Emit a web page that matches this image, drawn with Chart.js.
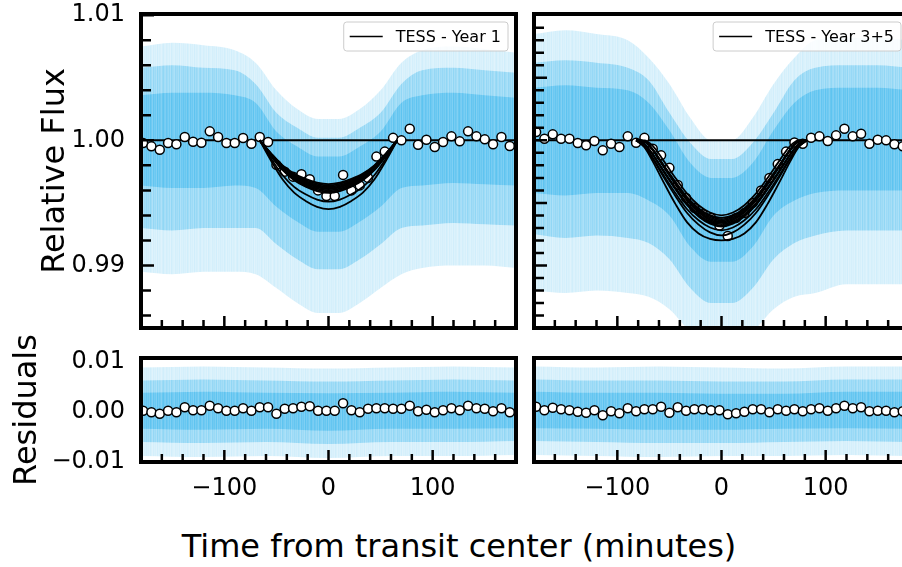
<!DOCTYPE html>
<html>
<head>
<meta charset="utf-8">
<script src="https://cdn.jsdelivr.net/npm/chart.js@4.4.1/dist/chart.umd.min.js"></script>
<style>
  body { margin: 0; background: #fff; }
  #fig { position: relative; width: 902px; height: 567px; overflow: hidden; font-family: 'DejaVu Sans'; }
  .panel { position: absolute; }
  #xtitle { position: absolute; left: 0; top: 527px; width: 918px; text-align: center; font-size: 32px; line-height: 38px; color: #000; }
</style>
</head>
<body>
<div id="fig">
  <div class="panel" style="left:0;top:0"><canvas id="fluxY1" width="525" height="334"></canvas></div>
  <div class="panel" style="left:520px;top:0"><canvas id="fluxY35" width="400" height="334"></canvas></div>
  <div class="panel" style="left:0;top:320px"><canvas id="resY1" width="525" height="180"></canvas></div>
  <div class="panel" style="left:520px;top:320px"><canvas id="resY35" width="400" height="180"></canvas></div>
  <div id="xtitle">Time from transit center (minutes)</div>
</div>
<script>
// binned light curve times (minutes from mid-transit)
const binTimes = [-178, -170, -162, -154, -146, -138, -130, -122, -114, -106, -98, -90, -82, -74, -66,
  -58, -50, -42, -34, -26, -18, -10, -2, 6, 14, 22, 30, 38, 46, 54, 62, 70, 78, 86, 94, 102, 110, 118,
  126, 134, 142, 150, 158, 166, 174];

// binned relative flux
const binFluxY1 = [0.99979, 0.99952, 0.99925, 0.99979, 0.99968, 1.00027, 0.99989, 0.99981, 1.00072, 1.00027,
  0.99979, 0.99979, 1.00019, 0.99973, 1.00027, 0.99987, 0.99804, 0.99750, 0.99710, 0.99730, 0.99690, 0.99600,
  0.99555, 0.99555, 0.99724, 0.99600, 0.99640, 0.99700, 0.99870, 0.99910, 1.00020, 1.00000, 1.00093, 0.99965,
  1.00005, 0.99947, 0.99987, 1.00032, 0.99992, 1.00072, 1.00032, 1.00008, 0.99968, 1.00027, 0.99955];
const binFluxY35 = [1.00067, 1.00013, 1.00048, 1.00013, 1.00013, 0.99979, 0.99960, 0.99995, 0.99920, 0.99973,
  0.99947, 1.00032, 0.99981, 1.00020, 0.99933, 0.99880, 0.99780, 0.99644, 0.99540, 0.99460, 0.99410, 0.99380,
  0.99320, 0.99236, 0.99380, 0.99420, 0.99500, 0.99600, 0.99700, 0.99810, 0.99910, 0.99983, 0.99973, 1.00021,
  1.00032, 0.99995, 1.00040, 1.00093, 1.00032, 1.00053, 0.99973, 1.00005, 1.00000, 0.99968, 0.99952];

// binned residuals
const binResY1 = [0.0002, -0.0001, -0.0004, 0.0002, -0.0001, 0.0009, 0.0003, 0.0003, 0.0012, 0.0007, 0.0002,
  0.0002, 0.0007, 0.0002, 0.0009, 0.0009, -0.0004, 0.0006, 0.0007, 0.0010, 0.0011, 0.0002, 0.0002, 0.0002,
  0.0017, 0.0003, -0.0001, 0.0006, 0.0007, 0.0007, 0.0006, 0.0006, 0.0012, 0.0001, 0.0004, -0.0001, 0.0003,
  0.0007, 0.0003, 0.0012, 0.0007, 0.0006, 0.0001, 0.0007, -0.0001];
const binResY35 = [0.0010, 0.0003, 0.0008, 0.0005, 0.0003, 0.0000, -0.0002, 0.0003, -0.0007, 0.0001, -0.0003,
  0.0007, 0.0001, 0.0005, 0.0005, 0.0010, -0.0002, 0.0009, 0.0002, 0.0005, 0.0005, 0.0003, 0.0003, -0.0005,
  -0.0003, 0.0000, 0.0005, 0.0005, -0.0001, 0.0005, 0.0002, 0.0005, 0.0001, 0.0005, 0.0007, 0.0002, 0.0007,
  0.0012, 0.0007, 0.0009, 0.0001, 0.0002, 0.0002, -0.0001, 0.0001];

// out-of-transit baseline
const baseTimes = [-180, 180];
const baseFlux = [1, 1];

// transit model draws, Year 1
const modelTimesY1 = [-66, -55, -44, -33, -22, -11, 0, 11, 22, 33, 44, 55, 66];
const modelsY1 = [
  [1, 0.99895, 0.99800, 0.99734, 0.99692, 0.99662, 0.99650, 0.99662, 0.99692, 0.99734, 0.99800, 0.99895, 1],
  [1, 0.99892, 0.99795, 0.99726, 0.99683, 0.99653, 0.99640, 0.99653, 0.99683, 0.99726, 0.99795, 0.99892, 1],
  [1, 0.99889, 0.99789, 0.99719, 0.99674, 0.99643, 0.99630, 0.99643, 0.99674, 0.99719, 0.99789, 0.99889, 1],
  [1, 0.99886, 0.99783, 0.99711, 0.99666, 0.99633, 0.99620, 0.99633, 0.99666, 0.99711, 0.99783, 0.99886, 1],
  [1, 0.99884, 0.99781, 0.99707, 0.99661, 0.99628, 0.99615, 0.99628, 0.99661, 0.99707, 0.99781, 0.99884, 1],
  [1, 0.99883, 0.99778, 0.99704, 0.99657, 0.99624, 0.99610, 0.99624, 0.99657, 0.99704, 0.99778, 0.99883, 1],
  [1, 0.99880, 0.99772, 0.99696, 0.99648, 0.99614, 0.99600, 0.99614, 0.99648, 0.99696, 0.99772, 0.99880, 1],
  [1, 0.99877, 0.99766, 0.99688, 0.99639, 0.99604, 0.99590, 0.99604, 0.99639, 0.99688, 0.99766, 0.99877, 1],
  [1, 0.99874, 0.99761, 0.99681, 0.99630, 0.99595, 0.99580, 0.99595, 0.99630, 0.99681, 0.99761, 0.99874, 1],
  [1, 0.99853, 0.99721, 0.99628, 0.99569, 0.99527, 0.99510, 0.99527, 0.99569, 0.99628, 0.99721, 0.99853, 1],
  [1, 0.99835, 0.99687, 0.99582, 0.99516, 0.99469, 0.99450, 0.99469, 0.99516, 0.99582, 0.99687, 0.99835, 1]
];

// transit model draws, Year 3+5
const modelTimesY35 = [-82, -74, -66, -55, -44, -33, -22, -11, 0, 11, 22, 33, 44, 55, 66, 74, 82];
const modelsY35 = [
  [1, 1, 0.99955, 0.99830, 0.99697, 0.99574, 0.99481, 0.99423, 0.99400, 0.99423, 0.99481, 0.99574, 0.99697, 0.99830, 0.99955, 1, 1],
  [1, 0.99993, 0.99927, 0.99795, 0.99666, 0.99546, 0.99458, 0.99402, 0.99380, 0.99402, 0.99458, 0.99546, 0.99666, 0.99795, 0.99927, 0.99993, 1],
  [1, 0.99992, 0.99926, 0.99792, 0.99661, 0.99539, 0.99449, 0.99393, 0.99370, 0.99393, 0.99449, 0.99539, 0.99661, 0.99792, 0.99926, 0.99992, 1],
  [1, 0.99992, 0.99924, 0.99789, 0.99656, 0.99532, 0.99440, 0.99383, 0.99360, 0.99383, 0.99440, 0.99532, 0.99656, 0.99789, 0.99924, 0.99992, 1],
  [1, 0.99992, 0.99923, 0.99786, 0.99650, 0.99524, 0.99431, 0.99373, 0.99350, 0.99373, 0.99431, 0.99524, 0.99650, 0.99786, 0.99923, 0.99992, 1],
  [1, 0.99992, 0.99922, 0.99782, 0.99645, 0.99517, 0.99423, 0.99364, 0.99340, 0.99364, 0.99423, 0.99517, 0.99645, 0.99782, 0.99922, 0.99992, 1],
  [1, 0.99971, 0.99889, 0.99751, 0.99618, 0.99496, 0.99408, 0.99352, 0.99330, 0.99352, 0.99408, 0.99496, 0.99618, 0.99751, 0.99889, 0.99971, 1],
  [1, 0.99970, 0.99887, 0.99747, 0.99612, 0.99489, 0.99400, 0.99342, 0.99320, 0.99342, 0.99400, 0.99489, 0.99612, 0.99747, 0.99887, 0.99970, 1],
  [1, 0.99970, 0.99885, 0.99743, 0.99607, 0.99481, 0.99391, 0.99333, 0.99310, 0.99333, 0.99391, 0.99481, 0.99607, 0.99743, 0.99885, 0.99970, 1],
  [1, 0.99951, 0.99860, 0.99714, 0.99575, 0.99449, 0.99361, 0.99303, 0.99280, 0.99303, 0.99361, 0.99449, 0.99575, 0.99714, 0.99860, 0.99951, 1],
  [1, 0.99949, 0.99852, 0.99698, 0.99552, 0.99419, 0.99326, 0.99264, 0.99240, 0.99264, 0.99326, 0.99419, 0.99552, 0.99698, 0.99852, 0.99949, 1],
  [1, 0.99946, 0.99832, 0.99656, 0.99488, 0.99344, 0.99256, 0.99212, 0.99200, 0.99212, 0.99256, 0.99344, 0.99488, 0.99656, 0.99832, 0.99946, 1]
];

// spread of the unbinned 2-min cadence points (outer / middle / inner envelopes)
const cloudTimes = [-180, -150, -120, -90, -70, -50, -30, -10, 10, 30, 50, 70, 90, 120, 150, 180];
const cloudY1 = {
  outerHi: [1.0075, 1.0078, 1.0076, 1.0072, 1.0062, 1.0040, 1.0025, 1.0017, 1.0017, 1.0025, 1.0040, 1.0062, 1.0072, 1.0075, 1.0073, 1.0070],
  outerLo: [0.9895, 0.9893, 0.9895, 0.9895, 0.9893, 0.9882, 0.9870, 0.9862, 0.9862, 0.9870, 0.9882, 0.9893, 0.9898, 0.9900, 0.9900, 0.9898],
  midHi: [1.0058, 1.0060, 1.0058, 1.0056, 1.0045, 1.0022, 1.0010, 1.0002, 1.0002, 1.0010, 1.0022, 1.0045, 1.0056, 1.0058, 1.0056, 1.0054],
  midLo: [0.9930, 0.9928, 0.9930, 0.9930, 0.9930, 0.9917, 0.9905, 0.9897, 0.9897, 0.9905, 0.9917, 0.9930, 0.9932, 0.9934, 0.9933, 0.9932],
  innerHi: [1.0036, 1.0038, 1.0038, 1.0036, 1.0030, 1.0007, 0.9995, 0.9987, 0.9987, 0.9995, 1.0007, 1.0030, 1.0036, 1.0038, 1.0036, 1.0034],
  innerLo: [0.9964, 0.9962, 0.9962, 0.9964, 0.9962, 0.9947, 0.9935, 0.9927, 0.9927, 0.9935, 0.9947, 0.9962, 0.9964, 0.9966, 0.9965, 0.9964]
};
const cloudY35 = {
  outerHi: [1.0085, 1.0088, 1.0085, 1.0080, 1.0066, 1.0045, 1.0018, 1.0000, 1.0000, 1.0018, 1.0045, 1.0066, 1.0080, 1.0082, 1.0082, 1.0080],
  outerLo: [0.9880, 0.9878, 0.9880, 0.9878, 0.9875, 0.9865, 0.9847, 0.9835, 0.9835, 0.9847, 0.9865, 0.9875, 0.9878, 0.9885, 0.9885, 0.9885],
  midHi: [1.0062, 1.0064, 1.0062, 1.0058, 1.0048, 1.0022, 0.9998, 0.9985, 0.9985, 0.9998, 1.0022, 1.0048, 1.0058, 1.0060, 1.0060, 1.0058],
  midLo: [0.9925, 0.9922, 0.9924, 0.9922, 0.9918, 0.9905, 0.9882, 0.9870, 0.9870, 0.9882, 0.9905, 0.9918, 0.9924, 0.9928, 0.9928, 0.9928],
  innerHi: [1.0042, 1.0044, 1.0042, 1.0040, 1.0030, 1.0008, 0.9982, 0.9970, 0.9970, 0.9982, 1.0008, 1.0030, 1.0040, 1.0042, 1.0042, 1.0040],
  innerLo: [0.9958, 0.9956, 0.9958, 0.9958, 0.9952, 0.9940, 0.9915, 0.9903, 0.9903, 0.9915, 0.9940, 0.9952, 0.9958, 0.9960, 0.9960, 0.9960]
};
const resCloudTimes = [-180, -120, -60, 0, 60, 120, 180];
const resCloudY1 = {
  outerHi: [0.0088, 0.0090, 0.0088, 0.0086, 0.0088, 0.0090, 0.0088],
  outerLo: [-0.0088, -0.0090, -0.0088, -0.0092, -0.0088, -0.0088, -0.0086],
  midHi: [0.0062, 0.0064, 0.0062, 0.0060, 0.0062, 0.0064, 0.0062],
  midLo: [-0.0060, -0.0062, -0.0060, -0.0064, -0.0060, -0.0060, -0.0058],
  innerHi: [0.0038, 0.0040, 0.0038, 0.0037, 0.0038, 0.0040, 0.0038],
  innerLo: [-0.0034, -0.0036, -0.0034, -0.0038, -0.0034, -0.0034, -0.0033]
};
const resCloudY35 = {
  outerHi: [0.0090, 0.0088, 0.0090, 0.0088, 0.0086, 0.0090, 0.0090],
  outerLo: [-0.0086, -0.0088, -0.0090, -0.0088, -0.0088, -0.0086, -0.0088],
  midHi: [0.0064, 0.0062, 0.0062, 0.0060, 0.0060, 0.0064, 0.0064],
  midLo: [-0.0058, -0.0060, -0.0062, -0.0062, -0.0060, -0.0058, -0.0060],
  innerHi: [0.0040, 0.0038, 0.0038, 0.0036, 0.0036, 0.0040, 0.0040],
  innerLo: [-0.0033, -0.0034, -0.0036, -0.0036, -0.0034, -0.0033, -0.0034]
};

// axis ticks
const xMajorTicks = [-100, 0, 100];
const xMinorTicks = [-160, -140, -120, -80, -60, -40, -20, 20, 40, 60, 80, 120, 140, 160];
const fluxLabelTicks = [0.99, 1.00, 1.01];
const fluxMinorY1 = [0.986, 0.988, 0.992, 0.994, 0.996, 0.998, 1.002, 1.004, 1.006, 1.008];
const fluxMajorY35 = [0.99, 0.995, 1.0, 1.005];
const fluxMinorY35 = [0.986, 0.987, 0.988, 0.989, 0.991, 0.992, 0.993, 0.994, 0.996, 0.997, 0.998, 0.999,
  1.001, 1.002, 1.003, 1.004, 1.006, 1.007, 1.008, 1.009];
const resLabelTicks = [-0.01, 0, 0.01];

Chart.defaults.font.family = "'DejaVu Sans'";
Chart.defaults.color = '#000';

const CLOUD = '40,175,235';
// column weights for the error-bar streak texture
const STREAK = [0.9, 0.75, 1, 0.85, 0.7, 0.95, 0.8, 0.88, 0.72, 1, 0.78, 0.92, 0.84, 0.7, 0.9, 1, 0.8,
  0.74, 0.96, 0.85, 0.76, 0.92, 0.7, 1, 0.86, 0.8, 0.72, 0.95, 0.84, 0.9, 0.76, 1, 0.7, 0.88, 0.8, 0.96, 0.82];
const pts = (xs, ys) => xs.map((x, i) => ({ x, y: ys[i] }));
const minus = s => s.replace('-', '\u2212');

function streaks(alpha) {
  const c = document.createElement('canvas');
  c.width = STREAK.length;
  c.height = 1;
  const g = c.getContext('2d');
  STREAK.forEach((s, i) => {
    g.fillStyle = `rgba(${CLOUD},${alpha * s})`;
    g.fillRect(i, 0, 1, 1);
  });
  return g.createPattern(c, 'repeat');
}

function cloud(xs, c) {
  const out = [];
  [['outer', 0.21, 6], ['mid', 0.38, 5], ['inner', 0.48, 4]].forEach(([k, a, order]) => {
    out.push({ data: pts(xs, c[k + 'Hi']), showLine: true, borderWidth: 0, borderColor: 'transparent',
      pointRadius: 0, fill: '+1', backgroundColor: streaks(a),
      cubicInterpolationMode: 'monotone', order, clip: 0 });
    out.push({ data: pts(xs, c[k + 'Lo']), showLine: true, borderWidth: 0, borderColor: 'transparent',
      pointRadius: 0, fill: false, cubicInterpolationMode: 'monotone', order, clip: 0 });
  });
  return out;
}

function binned(ys) {
  return { data: pts(binTimes, ys), showLine: false, pointRadius: 4.5, pointBackgroundColor: '#fff',
    pointBorderColor: '#000', pointBorderWidth: 1.5, order: 2, clip: 0 };
}

function line(xs, ys, order, width, label) {
  return { label, data: pts(xs, ys), showLine: true, borderColor: '#000', borderWidth: width,
    pointRadius: 0, fill: false, cubicInterpolationMode: 'monotone', order, clip: 0 };
}

// frame, inward tick marks and the boxed legend
const framePlugin = {
  id: 'frame',
  afterDatasetsDraw(chart, args, o) {
    const { ctx, chartArea: a, scales: { x, y } } = chart;
    ctx.save();
    ctx.strokeStyle = '#000';
    ctx.lineWidth = 2.5;
    ctx.beginPath();
    xMajorTicks.forEach(v => { const p = x.getPixelForValue(v); ctx.moveTo(p, a.bottom); ctx.lineTo(p, a.bottom - 12); });
    xMinorTicks.forEach(v => { const p = x.getPixelForValue(v); ctx.moveTo(p, a.bottom); ctx.lineTo(p, a.bottom - 8); });
    (o.yMajor || []).forEach(v => { const p = y.getPixelForValue(v); ctx.moveTo(a.left, p); ctx.lineTo(a.left + 13, p); });
    (o.yMinor || []).forEach(v => { const p = y.getPixelForValue(v); ctx.moveTo(a.left, p); ctx.lineTo(a.left + 10, p); });
    ctx.stroke();
    ctx.lineWidth = 4;
    ctx.strokeRect(a.left, a.top, a.right - a.left, a.bottom - a.top);

    const ds = chart.data.datasets.find(d => d.label);
    if (o.legend && ds) {
      ctx.font = "16px 'DejaVu Sans'";
      const tw = ctx.measureText(ds.label).width;
      const w = 6 + 33 + 13 + tw + 7, h = 29;
      const bx = a.right - 8 - w, by = a.top + 8;
      ctx.beginPath();
      ctx.roundRect(bx, by, w, h, 3);
      ctx.fillStyle = 'rgba(255,255,255,0.85)';
      ctx.fill();
      ctx.lineWidth = 1;
      ctx.strokeStyle = '#cccccc';
      ctx.stroke();
      ctx.beginPath();
      ctx.strokeStyle = '#000';
      ctx.lineWidth = 1.5;
      ctx.moveTo(bx + 6, by + h / 2);
      ctx.lineTo(bx + 39, by + h / 2);
      ctx.stroke();
      ctx.fillStyle = '#000';
      ctx.textBaseline = 'middle';
      ctx.fillText(ds.label, bx + 52, by + h / 2 + 1);
    }
    ctx.restore();
  }
};

function panel(id, p) {
  return new Chart(document.getElementById(id), {
    type: 'scatter',
    data: { datasets: p.datasets },
    options: {
      responsive: false,
      animation: false,
      events: [],
      layout: { padding: p.padding },
      plugins: {
        legend: { display: false },
        tooltip: { enabled: false },
        frame: { legend: p.legend, yMajor: p.yMajor, yMinor: p.yMinor }
      },
      scales: {
        x: {
          type: 'linear', min: -180, max: 180,
          grid: { display: false, drawTicks: false }, border: { display: false },
          afterBuildTicks: s => { s.ticks = xMajorTicks.map(v => ({ value: v })); },
          afterFit: s => { s.height = p.xHeight; s.paddingLeft = 0; s.paddingRight = 0; },
          ticks: { display: p.xLabels, padding: 12, autoSkip: false, maxRotation: 0,
            font: { size: 24 }, callback: v => minus(String(v)) }
        },
        y: {
          min: p.yMin, max: p.yMax,
          grid: { display: false, drawTicks: false }, border: { display: false },
          afterBuildTicks: s => { if (p.yLabels) s.ticks = p.yLabels.map(v => ({ value: v })); },
          afterFit: s => { s.width = p.yWidth; s.paddingTop = 0; s.paddingBottom = 0; },
          ticks: { display: !!p.yLabels, padding: 16, autoSkip: false,
            font: { size: 24 }, callback: v => minus(v.toFixed(2)) },
          title: { display: !!p.yTitle, text: p.yTitle, font: { size: 32 },
            padding: { top: p.yTitlePad, bottom: 0 } }
        }
      }
    },
    plugins: [framePlugin]
  });
}

panel('fluxY1', {
  datasets: [
    ...modelsY1.map(m => line(modelTimesY1, m, 1, 1.8)),
    binned(binFluxY1),
    line(baseTimes, baseFlux, 3, 2, 'TESS - Year 1'),
    ...cloud(cloudTimes, cloudY1)
  ],
  padding: { left: 0, right: 9, top: 14, bottom: 0 },
  xHeight: 6, yWidth: 141, yMin: 0.985, yMax: 1.0101,
  xLabels: false, yLabels: fluxLabelTicks, yTitle: 'Relative Flux', yTitlePad: 36,
  yMajor: fluxLabelTicks, yMinor: fluxMinorY1, legend: true
});

panel('fluxY35', {
  datasets: [
    ...modelsY35.map(m => line(modelTimesY35, m, 1, 1.8)),
    binned(binFluxY35),
    line(baseTimes, baseFlux, 3, 2, 'TESS - Year 3+5'),
    ...cloud(cloudTimes, cloudY35)
  ],
  padding: { left: 0, right: 11, top: 14, bottom: 0 },
  xHeight: 6, yWidth: 14, yMin: 0.985, yMax: 1.0101,
  xLabels: false, yLabels: null,
  yMajor: fluxMajorY35, yMinor: fluxMinorY35, legend: true
});

panel('resY1', {
  datasets: [binned(binResY1), ...cloud(resCloudTimes, resCloudY1)],
  padding: { left: 0, right: 9, top: 38, bottom: 0 },
  xHeight: 38, yWidth: 141, yMin: -0.01, yMax: 0.0107,
  xLabels: true, yLabels: resLabelTicks, yTitle: 'Residuals', yTitlePad: 8
});

panel('resY35', {
  datasets: [binned(binResY35), ...cloud(resCloudTimes, resCloudY35)],
  padding: { left: 0, right: 11, top: 38, bottom: 0 },
  xHeight: 38, yWidth: 14, yMin: -0.01, yMax: 0.0107,
  xLabels: true, yLabels: null
});
</script>
</body>
</html>
